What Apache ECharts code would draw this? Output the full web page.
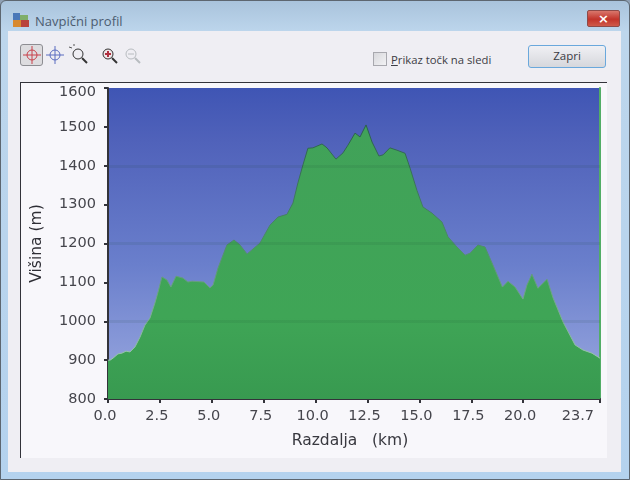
<!DOCTYPE html>
<html>
<head>
<meta charset="utf-8">
<title>Navpični profil</title>
<script src="https://cdn.jsdelivr.net/npm/echarts@6/dist/echarts.min.js"></script>
<style>
  html, body { margin: 0; padding: 0; background: #8fa0b4; }
  #win { position: relative; width: 630px; height: 480px; overflow: hidden;
    font-family: "Open Sans", "Noto Sans", sans-serif; box-sizing: border-box;
    border: 1px solid #5d6670; border-radius: 6px 6px 0 0;
    background: linear-gradient(180deg, #a9c3dc 0, #bdd6ec 31px, #b4d2ee 100%); }
  #pane { position: absolute; left: 7px; top: 30px; width: 613px; height: 441px;
    background: #efeef3; }
  #panel { position: absolute; left: 19px; top: 81px; width: 586px; height: 375px;
    border-top: 1px solid #33333a; border-left: 1px solid #33333a;
    background: #f8f7fb; }
  #chart { position: absolute; left: -1px; top: -1px; width: 630px; height: 480px; }
  #win > span, #win > div.a, #win > svg { position: absolute; }
  .title { left: 34px; top: 11px; font-size: 13px; color: #4c5c70; }
  .close { left: 586px; top: 9px; width: 33px; height: 17px; border-radius: 2px;
    background: linear-gradient(180deg, #d9776c, #c2342b 55%, #cf5a4a);
    border: 1px solid #8e4a48; box-sizing: border-box; color: #fff;
    font: bold 13px/15px "DejaVu Sans"; text-align: center; }
  .sel { left: 19px; top: 43px; width: 23px; height: 22px; box-sizing: border-box;
    border: 1px solid #8d8d92; border-radius: 3px; background: #dddcdf; }
  .check { left: 372px; top: 51px; width: 14px; height: 14px; box-sizing: border-box;
    border: 1px solid #a8a8ae; background: linear-gradient(135deg, #d8d8dc, #f2f2f4); }
  .lbl { left: 390px; top: 51px; font-size: 11.3px; color: #3c3c44; }
  .btn { left: 527px; top: 44px; width: 78px; height: 23px; box-sizing: border-box;
    border: 1px solid #6aa8dc; border-radius: 3px; font-size: 11.5px; color: #3a3a42;
    background: linear-gradient(180deg, #f0f0f4, #d6d7dc); text-align: center; line-height: 20px; }
</style>
</head>
<body>
<div id="win">
  <div id="pane"></div>
  <div id="panel"></div>
  <svg style="left:12px;top:11px" width="17" height="16">
    <rect x="0" y="1" width="7" height="7" fill="#4a78b8"/><rect x="7" y="3" width="8" height="5" fill="#7fae6a"/>
    <rect x="0" y="8" width="8" height="7" fill="#d8892e"/><rect x="8" y="8" width="8" height="7" fill="#b8433c"/>
  </svg>
  <span class="title">Navpični profil</span>
  <div class="a close">×</div>
  <div class="a sel"></div>
  <svg style="left:19px;top:42px" width="130" height="26" fill="none">
    <g stroke="#c8404a"><circle cx="12" cy="12" r="5"/><path d="M12 3v18M3 12h18"/></g>
    <g stroke="#5a6cc0"><circle cx="35" cy="12" r="5"/><path d="M35 3v18M26 12h18"/></g>
    <g stroke="#333"><circle cx="58" cy="11" r="5"/><path d="M62 15l5 5" stroke-width="2"/><path d="M52 5l-3-1M54 3v-2" stroke="#555"/></g>
    <g stroke="#333"><circle cx="88" cy="11" r="5" fill="#f0e6e8"/><path d="M92 15l5 5" stroke-width="2"/><path d="M85 11h6M88 8v6" stroke="#b03040" stroke-width="2"/></g>
    <g stroke="#b8bcc0"><circle cx="111" cy="11" r="5"/><path d="M115 15l5 5" stroke-width="2"/><path d="M108 11h6"/></g>
  </svg>
  <div class="a check"></div>
  <span class="lbl"><u>P</u>rikaz točk na sledi</span>
  <div class="a btn">Zapri</div>
  <div id="chart"></div>
</div>
<script>
// razdalja (km) in višina (m), odčitano s slike
const DIST_KM = [0, 0.1, 0.24, 0.48, 0.67, 0.87, 1.06, 1.3, 1.54, 1.78, 2.02, 2.26, 2.41, 2.6, 2.84, 3.03, 3.28, 3.61, 3.85, 4.05,
  4.62, 4.91, 5.06, 5.3, 5.73, 6.07, 6.36, 6.7, 7.32, 7.8, 8.19, 8.62, 8.91, 9.15, 9.39, 9.63, 9.87, 10.31, 10.55, 10.98,
  11.32, 11.56, 11.9, 12.14, 12.43, 12.72, 13.05, 13.25, 13.58, 13.92, 14.31, 14.55, 14.88, 15.17, 15.61, 16.09, 16.38, 16.81,
  17.2, 17.44, 17.82, 18.16, 18.5, 19.0, 19.27, 19.61, 19.99, 20.18, 20.42, 20.71, 21.15, 21.44, 21.92, 22.5, 22.88, 23.31, 23.7]
const ELEV_M = [900, 900, 905, 916, 918, 923, 921, 934, 959, 990, 1008, 1047, 1075, 1114, 1106, 1088, 1116, 1111, 1101, 1103,
  1101, 1086, 1093, 1137, 1196, 1209, 1196, 1173, 1201, 1247, 1268, 1275, 1304, 1356, 1402, 1445, 1446, 1456, 1446, 1417,
  1433, 1453, 1484, 1474, 1505, 1461, 1425, 1428, 1446, 1440, 1432, 1394, 1337, 1294, 1278, 1255, 1217, 1191,
  1170, 1175, 1196, 1191, 1150, 1088, 1103, 1088, 1057, 1093, 1121, 1085, 1108, 1060, 998, 939, 926, 918, 905]
const X_TICKS = [0, 2.5, 5, 7.5, 10, 12.5, 15, 17.5, 20, 23.7]
const Y_TICKS = [800, 900, 1000, 1100, 1200, 1300, 1400, 1500, 1600]
const BAND_M = [1000, 1200, 1400]

const INK = '#45454c'
const chart = echarts.init(document.getElementById('chart'))
chart.setOption({
  animation: false,
  backgroundColor: 'transparent',
  textStyle: { fontFamily: 'DejaVu Sans' },
  grid: { left: 108, top: 88, width: 492, height: 311, show: true, borderWidth: 0,
    backgroundColor: new echarts.graphic.LinearGradient(0, 0, 0, 1, [
      { offset: 0, color: '#3f55b4' },
      { offset: 0.17, color: '#5062ba' },
      { offset: 0.57, color: '#6a7fcc' },
      { offset: 0.87, color: '#8d9dda' },
      { offset: 1, color: '#a3b2e2' }]) },
  xAxis: {
    type: 'value', min: 0, max: 23.7,
    name: 'Razdalja   (km)', nameLocation: 'middle', nameGap: 34,
    nameTextStyle: { color: '#38383f', fontSize: 15.5, padding: [0, 8, 0, 0] },
    axisLine: { lineStyle: { color: '#33333a', width: 2 } },
    axisTick: { show: true, length: 4, customValues: X_TICKS, lineStyle: { color: '#33333a', width: 2 } },
    axisLabel: { color: INK, fontSize: 14.5, margin: 10, customValues: X_TICKS,
      padding: [0, 6, 0, 0], alignMaxLabel: 'right', formatter: v => v.toFixed(1) },
    splitLine: { show: false },
  },
  yAxis: [{
    type: 'value', min: 800, max: 1600,
    name: 'Višina (m)', nameLocation: 'middle', nameGap: 63,
    nameTextStyle: { color: '#2e2e35', fontSize: 15.5 },
    axisLine: { show: true, lineStyle: { color: '#33333a', width: 2 } },
    axisTick: { show: true, length: 4, customValues: Y_TICKS, lineStyle: { color: '#33333a', width: 2 } },
    axisLabel: { color: INK, fontSize: 14.5, margin: 12, customValues: Y_TICKS,
      formatter: v => (v === 1600 ? '{top|1600}' : String(v)),
      rich: { top: { color: INK, fontSize: 14.5, padding: [8, 0, 0, 0] } } },
    splitLine: { show: false },
  }, {
    type: 'value', min: 800, max: 1600, position: 'right',
    axisLine: { show: true, lineStyle: { color: '#52ad66', width: 2 } },
    axisTick: { show: false }, axisLabel: { show: false }, splitLine: { show: false },
  }],
  series: [{
    type: 'line', data: DIST_KM.map((d, i) => [d, ELEV_M[i]]),
    symbol: 'none', smooth: false,
    lineStyle: { width: 1, color: new echarts.graphic.LinearGradient(0, 0, 0, 1, [
      { offset: 0, color: '#2a5c4c' },
      { offset: 0.5, color: '#4d8a68' },
      { offset: 1, color: '#9cc8ac' }]) },
    areaStyle: { opacity: 1, color: new echarts.graphic.LinearGradient(0, 0, 0, 1, [
      { offset: 0, color: '#41a259' },
      { offset: 0.7, color: '#3fa556' },
      { offset: 1, color: '#389a50' }]) },
    markLine: { silent: true, symbol: 'none', label: { show: false },
      lineStyle: { type: 'solid', width: 3, color: 'rgba(20,70,40,.09)' },
      data: BAND_M.map(m => ({ yAxis: m })) },
  }],
})
</script>
</body>
</html>
